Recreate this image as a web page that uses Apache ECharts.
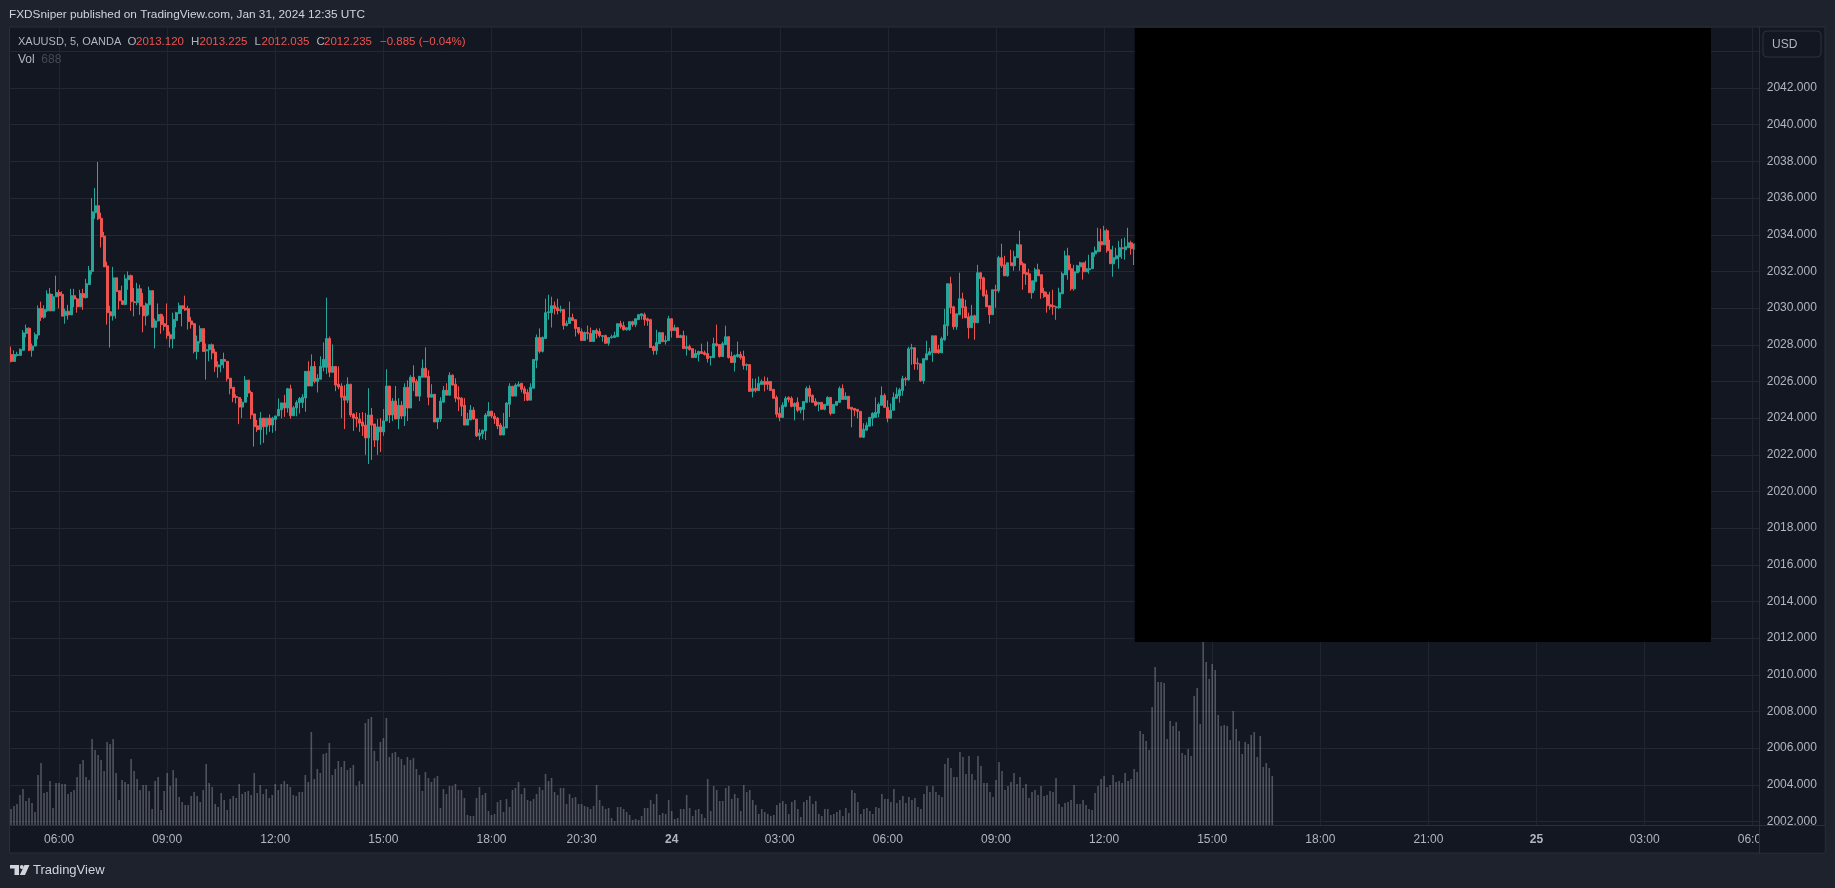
<!DOCTYPE html>
<html>
<head>
<meta charset="utf-8">
<title>XAUUSD 5m</title>
<style>
  html, body { margin: 0; padding: 0; background: #1e222d; }
  #chart { width: 1835px; height: 888px; }
</style>
<script src="https://cdn.jsdelivr.net/npm/echarts@6/dist/echarts.min.js"></script>
</head>
<body>
<div id="chart"></div>
<script>
const opens = [
  2027.47,2027.09,2027.42,2027.42,2027.7,2028.62,2028.9,2027.7,2027.93,2028.53,
  2029.98,2029.5,2029.85,2030.77,2029.85,2030.62,2030.85,2030.75,2029.6,2029.83,
  2029.63,2030.68,2030.5,2030.07,2030.79,2030.57,2031.28,2032,2035.2,2035.58,
  2034.9,2033.93,2032.3,2029.8,2029.58,2031.65,2030.95,2030.4,2030.2,2031.55,
  2031.77,2030.35,2030.3,2031.05,2030.13,2029.58,2030.18,2030.95,2028.95,2029.3,
  2029.65,2029.15,2029.05,2028.55,2028.33,2029.33,2029.7,2030.13,2030,2029.97,
  2029.3,2029.15,2027.63,2028.18,2028.88,2027.67,2027.73,2028,2027.6,2026.8,
  2026.9,2027.2,2027.1,2026.18,2025.68,2025.18,2025.13,2024.6,2024.87,2026.07,
  2025.4,2024.23,2023.58,2023.37,2024,2023.53,2024,2023.62,2023.93,2024.12,
  2024.45,2024.83,2024.55,2025.6,2024.13,2024.55,2024.85,2024.85,2025.1,2026.55,
  2025.75,2026.82,2026,2026.12,2026.77,2026.77,2028.34,2026.5,2026.82,2025.85,
  2025.74,2025.2,2024.98,2025.85,2024.22,2024.05,2023.95,2023.79,2023.62,2022.92,
  2024.17,2023.68,2022.8,2023.52,2023.25,2023.85,2025.75,2024.17,2024.93,2023.95,
  2024.7,2024.11,2025.68,2024.55,2026.23,2026.01,2025.2,2026.23,2026.72,2026.28,
  2025.14,2025.3,2023.79,2023.95,2024.87,2025.52,2025.25,2026.34,2025.85,2025.14,
  2025.09,2024.7,2023.62,2023.9,2024.44,2023.95,2023.03,2023.14,2023.3,2024.11,
  2024.38,2024.11,2024,2023.62,2023.08,2023.46,2024.76,2025.74,2025.2,2025.74,
  2025.9,2025.6,2025.4,2024.98,2025.63,2027.15,2028.4,2027.64,2028.34,2029.75,
  2029.75,2030.13,2030.02,2029.86,2029.92,2029.05,2029.16,2029.48,2029.37,2028.94,
  2028.72,2028.23,2028.67,2028.62,2028.18,2028.78,2028.72,2028.45,2028.5,2028.08,
  2028.39,2028.39,2028.44,2029.15,2029.04,2028.82,2028.82,2029.26,2029.1,2029.37,
  2029.58,2029.64,2029.42,2029.37,2027.9,2027.68,2028.06,2028.66,2028.17,2028.23,
  2029.42,2028.77,2028.93,2028.39,2028.5,2027.79,2027.9,2027.79,2027.3,2027.47,
  2027.63,2027.57,2027.52,2027.3,2027.3,2028.06,2028.01,2027.36,2028.01,2028.44,
  2027.36,2027.03,2027.36,2027.47,2027.36,2026.87,2026.92,2025.46,2025.62,2025.5,
  2025.84,2026,2026,2026,2025.57,2025.13,2024.26,2024.04,2024.64,2025.13,
  2025.08,2024.64,2024.86,2024.43,2024.48,2024.86,2025.62,2025.24,2024.91,2024.75,
  2024.86,2024.48,2024.7,2025.13,2024.26,2024.7,2024.86,2025.62,2025.02,2025.19,
  2024.59,2024.53,2024.48,2024.37,2022.96,2023.34,2023.56,2023.99,2024.04,2024.26,
  2024.7,2025.24,2024.59,2023.99,2024.43,2025.08,2025.22,2025.5,2026.15,2026.09,
  2027.78,2027.84,2027.01,2026.96,2026.04,2027.18,2027.45,2027.56,2028.49,2027.73,
  2027.56,2028.27,2029.04,2031.33,2030.07,2028.98,2029.64,2030.51,2030.07,2029.53,
  2028.93,2029.58,2029.2,2031.93,2031.65,2030.73,2030.13,2029.64,2031,2030.95,
  2032.75,2032.36,2031.76,2032.47,2032.31,2032.75,2033.45,2032.42,2031.93,2031.87,
  2030.84,2031.44,2032.09,2031.82,2030.89,2030.73,2030.18,2030.13,2030.02,2030.02,
  2030.78,2031.82,2032.85,2032.15,2031.05,2031.93,2032.25,2032.47,2031.98,2032.09,
  2032.15,2032.96,2033.07,2033.62,2033.45,2034.22,2033.18,2032.42,2032.69,2032.8,
  2033.29,2033.18,2033.29,2033.56,2033.2
];
const closes = [
  2027.09,2027.47,2027.47,2027.75,2028.65,2028.9,2027.7,2027.93,2028.55,2029.98,
  2029.5,2029.93,2030.77,2029.85,2030.62,2030.85,2030.68,2029.56,2029.83,2029.63,
  2030.68,2030.5,2030.07,2030.79,2030.57,2031.33,2032.04,2035.25,2035.58,2034.87,
  2033.88,2032.25,2029.75,2029.58,2031.65,2030.9,2030.4,2030.2,2031.6,2031.77,
  2030.35,2030.3,2031.05,2030.1,2029.58,2030.23,2030.95,2028.95,2029.3,2029.65,
  2029.1,2029,2028.5,2028.33,2029.38,2029.75,2030.13,2029.97,2029.9,2029.27,
  2029.1,2027.63,2028.18,2028.88,2027.63,2027.73,2028,2027.55,2026.8,2026.9,
  2027.2,2027.1,2026.15,2025.63,2025.13,2025.13,2024.6,2024.87,2026.07,2025.37,
  2024.18,2023.53,2023.37,2024,2023.53,2024,2023.62,2024,2024.12,2024.48,
  2024.83,2024.55,2025.6,2024.13,2024.57,2024.85,2025.07,2025.14,2026.55,2025.75,
  2026.82,2026,2026.17,2026.82,2027.2,2028.34,2026.5,2026.82,2025.8,2025.7,
  2025.14,2024.98,2025.85,2024.17,2024,2023.95,2023.73,2023.57,2022.92,2024.17,
  2023.62,2022.8,2023.52,2023.25,2023.85,2025.75,2024.17,2024.93,2023.95,2024.7,
  2024.11,2025.68,2024.55,2026.23,2025.96,2025.2,2026.28,2026.72,2026.23,2025.14,
  2025.3,2023.79,2024,2024.93,2025.52,2025.25,2026.34,2025.8,2025.09,2025.03,
  2024.65,2023.62,2023.95,2024.44,2023.95,2023.03,2023.19,2023.35,2024.17,2024.38,
  2024.11,2023.95,2023.57,2023.08,2023.52,2024.82,2025.74,2025.2,2025.8,2025.85,
  2025.57,2025.34,2024.98,2025.68,2027.2,2028.4,2027.64,2028.4,2029.75,2029.8,
  2030.13,2029.97,2029.86,2029.92,2029.05,2029.16,2029.48,2029.32,2028.89,2028.67,
  2028.23,2028.67,2028.62,2028.18,2028.78,2028.62,2028.5,2028.5,2028.08,2028.39,
  2028.44,2028.5,2029.15,2028.99,2028.82,2028.93,2029.26,2029.1,2029.42,2029.64,
  2029.69,2029.37,2029.31,2027.85,2027.68,2028.12,2028.66,2028.17,2028.23,2029.42,
  2028.77,2028.93,2028.39,2028.5,2027.79,2027.9,2027.74,2027.3,2027.52,2027.63,
  2027.52,2027.47,2027.25,2027.36,2028.06,2027.95,2027.36,2028.06,2028.44,2027.3,
  2027.03,2027.41,2027.47,2027.3,2026.87,2026.92,2025.46,2025.62,2025.5,2025.89,
  2026,2025.84,2025.84,2025.51,2025.08,2024.21,2024.04,2024.7,2025.08,2025.02,
  2024.64,2024.8,2024.43,2024.59,2024.91,2025.62,2025.19,2024.86,2024.7,2024.86,
  2024.48,2024.75,2025.13,2024.26,2024.75,2024.91,2025.62,2025.02,2025.19,2024.53,
  2024.48,2024.43,2024.37,2022.96,2023.39,2023.61,2024.04,2024.26,2024.32,2024.75,
  2025.24,2024.59,2023.99,2024.43,2025.13,2025.3,2025.55,2026.15,2026.09,2027.78,
  2027.84,2026.96,2026.96,2026.04,2027.24,2027.51,2027.62,2028.49,2027.56,2027.56,
  2028.33,2029.09,2031.33,2030.02,2028.98,2029.69,2030.51,2030.02,2029.47,2028.93,
  2029.58,2029.2,2031.93,2031.6,2030.67,2030.07,2029.64,2031,2030.95,2032.75,
  2032.31,2031.76,2032.47,2032.31,2032.8,2033.45,2032.36,2031.87,2031.82,2030.84,
  2031.49,2032.09,2031.76,2030.84,2030.62,2030.13,2030.07,2030.07,2030.07,2030.84,
  2031.87,2032.85,2032.09,2031.05,2031.98,2032.31,2032.47,2031.98,2032.15,2032.15,
  2033.02,2033.13,2033.62,2033.45,2034.22,2033.13,2032.42,2032.75,2032.85,2033.29,
  2033.24,2033.35,2033.56,2033.24,2033.5
];
const lows = [
  2027.04,2027.09,2027.35,2027.42,2027.7,2028.4,2027.65,2027.35,2027.92,2028.3,
  2029.3,2029.42,2029.78,2029.83,2029.83,2030.62,2029.98,2029.56,2029.15,2029.37,
  2029.63,2030.05,2029.75,2030.07,2029.9,2030.52,2031.28,2031.83,2034.87,2034.8,
  2033.3,2032.25,2029.1,2027.85,2029.32,2029.43,2029.93,2030.2,2030.15,2031,
  2029.85,2029.55,2030.15,2029.63,2028.68,2029.05,2029.63,2028.95,2027.8,2029.27,
  2028.6,2028.78,2028.33,2027.85,2027.8,2028.95,2029.7,2029,2029.85,2028.83,
  2028.88,2027.53,2027.2,2028.07,2027.63,2026.1,2027.1,2027.2,2026.52,2026.2,
  2026.5,2026.72,2026,2025.3,2024.87,2024.8,2023.67,2024,2024.87,2025.15,
  2023.95,2022.45,2023.25,2022.55,2022.65,2023.1,2023.25,2023.2,2023.3,2024.12,
  2023.98,2024.07,2024.3,2023.97,2024.13,2024.1,2024.25,2024.55,2024.35,2025.75,
  2025.75,2025.9,2025.4,2026.12,2026.55,2026.4,2026.23,2026.5,2025.47,2025.58,
  2024,2023.4,2024.82,2024.06,2023.3,2023.5,2023.25,2023.03,2022,2021.5,
  2021.72,2022.43,2022,2022.15,2023.03,2023.85,2023.73,2023.84,2023.95,2023.4,
  2023.95,2023.57,2023.84,2024.55,2025.47,2025.2,2024.93,2026.23,2026.23,2024.7,
  2025.14,2023.79,2023.4,2023.79,2024.87,2025.25,2025.25,2025.8,2024.87,2024.38,
  2024.11,2023.62,2023.62,2023.9,2023.9,2022.97,2022.8,2022.87,2022.8,2024.11,
  2024,2023.68,2023.4,2023.08,2023.08,2023.46,2024.06,2025.2,2025.2,2025.74,
  2025.4,2024.93,2024.93,2024.98,2025.63,2026.72,2027.53,2027.58,2028.34,2029.37,
  2028.94,2029.65,2029.65,2029.75,2028.83,2029,2029.16,2029.32,2028.45,2028.56,
  2028.23,2028.23,2028.29,2028.18,2028.18,2028.34,2028.4,2028.17,2028.08,2027.95,
  2028.33,2028.39,2028.44,2028.88,2028.77,2028.77,2028.77,2028.99,2028.96,2029.37,
  2029.37,2029.04,2029.04,2027.85,2027.46,2027.46,2028.06,2028.17,2028.01,2028.23,
  2028.39,2028.77,2028.39,2028.39,2027.79,2027.41,2027.68,2027.3,2027.3,2027.09,
  2027.52,2027.41,2027.03,2026.87,2027.3,2027.9,2027.3,2027.36,2028.01,2027.25,
  2027.03,2026.54,2027.3,2027.19,2026.65,2026.6,2025.46,2025.13,2025.4,2025.5,
  2025.84,2025.46,2025.55,2025.51,2025.08,2024.04,2023.83,2024.04,2024.59,2024.86,
  2024.59,2023.88,2024.32,2024.26,2023.88,2024.86,2024.86,2024.86,2024.64,2024.37,
  2024.48,2024.43,2024.7,2024.15,2024.26,2024.7,2024.86,2025.02,2025.02,2024.48,
  2023.5,2024.1,2023.99,2022.96,2022.91,2023.34,2023.56,2023.56,2024.04,2024.04,
  2024.7,2024.59,2023.77,2023.99,2024.43,2025.08,2024.84,2025.22,2025.76,2026.04,
  2026.91,2026.64,2026.64,2025.98,2025.87,2027.18,2027.45,2027.07,2027.56,2027.51,
  2027.56,2028.22,2028.49,2029.69,2028.82,2028.82,2029.64,2029.42,2029.47,2028.33,
  2028.93,2028.27,2029.2,2031,2030.62,2030.07,2029.15,2029.64,2030.02,2030.84,
  2032.2,2031.76,2031.71,2032.31,2032.04,2032.75,2032.04,2031,2031.27,2030.84,
  2030.51,2030.95,2031.76,2030.51,2030.56,2029.75,2029.91,2029.64,2029.36,2029.96,
  2030.78,2031.82,2031.55,2030.95,2030.95,2031.93,2031.98,2031.55,2031.98,2031.87,
  2032.15,2032.8,2033.07,2033.07,2033.45,2033.02,2032.42,2031.71,2032.64,2032.15,
  2032.69,2032.64,2033.29,2032.91,2032.35
];
const highs = [
  2027.9,2027.7,2027.62,2027.8,2028.8,2029.1,2028.95,2028.07,2028.67,2030.15,
  2030.35,2030.15,2030.97,2031.1,2030.77,2031.77,2031,2030.92,2029.97,2030.18,
  2031.05,2031.05,2030.57,2031,2031.05,2031.6,2032.3,2036,2036.55,2037.97,
  2035.2,2034.15,2032.53,2030.13,2032.25,2031.65,2030.95,2031.22,2031.83,2032,
  2031.83,2031.1,2031.38,2031.28,2030.83,2030.3,2031.17,2030.95,2029.43,2030.25,
  2029.7,2029.55,2030.25,2028.72,2029.75,2029.8,2030.3,2030.13,2030.68,2030.13,
  2029.52,2029.2,2028.5,2029.05,2028.88,2028.07,2028,2028.07,2027.78,2027.1,
  2027.2,2027.57,2027.1,2026.18,2025.68,2025.3,2025.13,2025.05,2026.3,2026.07,
  2025.5,2024.23,2023.9,2024.33,2024,2024,2024.2,2024.07,2024.12,2025.07,
  2024.83,2025.27,2025.65,2025.82,2024.67,2024.97,2025.15,2025.3,2026.55,2027.1,
  2027.48,2027.1,2026.4,2027.37,2028.13,2030.57,2028.45,2028.02,2026.82,2026.82,
  2025.9,2025.8,2026.23,2025.85,2024.28,2024.33,2024.28,2024.33,2024.28,2025.63,
  2024.55,2023.68,2023.95,2024,2024.5,2026.66,2025.75,2025.09,2025.75,2025.09,
  2024.93,2025.9,2026.06,2026.34,2026.88,2026.12,2026.28,2027.2,2027.86,2026.61,
  2025.85,2025.3,2024,2025.14,2025.75,2025.9,2026.5,2026.39,2026.17,2025.74,
  2025.14,2025.09,2024.28,2024.71,2024.6,2023.95,2023.4,2023.35,2024.28,2024.87,
  2024.38,2024.28,2024.06,2023.73,2024.28,2024.87,2025.9,2025.74,2025.9,2026,
  2025.9,2025.74,2025.57,2025.9,2027.2,2028.56,2028.89,2028.45,2030.51,2030.73,
  2030.62,2030.35,2030.51,2030.13,2029.92,2029.32,2030.35,2029.7,2029.37,2028.94,
  2028.89,2028.72,2029.05,2028.94,2028.78,2028.89,2028.89,2028.5,2028.55,2028.39,
  2028.55,2028.71,2029.15,2029.31,2029.26,2028.93,2029.26,2029.31,2029.42,2029.69,
  2029.69,2029.75,2029.48,2029.42,2027.95,2028.82,2028.71,2028.66,2028.5,2029.58,
  2029.42,2029.1,2028.93,2028.55,2028.77,2028.5,2028.01,2027.79,2027.74,2027.68,
  2028.06,2027.68,2028.17,2027.36,2028.39,2029.1,2028.01,2028.17,2029.04,2028.44,
  2027.63,2027.47,2028.17,2027.63,2027.68,2026.98,2026.92,2026.16,2026.16,2026.27,
  2026.11,2026.27,2026.22,2026,2025.57,2025.24,2024.59,2024.86,2025.19,2025.19,
  2025.19,2024.86,2025.13,2024.59,2024.91,2025.73,2025.78,2025.3,2025.08,2024.86,
  2024.86,2024.75,2025.19,2025.13,2024.75,2024.91,2025.73,2025.84,2025.41,2025.19,
  2024.59,2024.53,2024.48,2024.37,2023.72,2023.77,2024.04,2024.32,2025.13,2024.86,
  2025.73,2025.35,2024.97,2024.8,2025.4,2025.67,2025.65,2026.31,2026.25,2027.89,
  2028.05,2027.84,2027.29,2026.96,2027.24,2028.22,2027.84,2028.49,2028.49,2028,
  2028.44,2029.96,2031.33,2031.71,2030.13,2029.69,2031.93,2030.84,2030.45,2029.75,
  2030.18,2029.64,2032.36,2031.93,2031.71,2031,2030.13,2031,2031.27,2032.85,
  2033.51,2032.85,2032.47,2033.18,2033.13,2033.51,2034.22,2032.53,2032.42,2032.15,
  2031.49,2032.2,2032.42,2031.82,2031.11,2030.89,2030.89,2031,2030.13,2031.11,
  2031.98,2033.13,2033.29,2032.42,2032.36,2032.36,2032.53,2032.47,2032.58,2032.91,
  2033.02,2033.35,2034.38,2034.33,2034.49,2034.33,2033.73,2033.4,2033.29,2033.67,
  2033.78,2033.84,2034.38,2033.67,2033.5
];
// volume bars, one unit = one pixel of bar height
const volumes = [
  16,19,21,30,36,24,27,22,13,50,62,32,33,44,17,42,42,41,41,31,
  33,35,48,61,65,48,45,86,75,70,65,54,83,81,86,52,25,45,43,41,
  66,54,46,35,40,40,34,16,44,48,15,34,52,39,55,47,28,23,20,20,
  29,33,29,23,35,61,42,38,21,18,32,25,15,26,29,27,41,31,33,34,
  30,52,32,40,31,36,27,30,41,35,41,44,41,38,30,29,33,33,50,43,
  93,46,56,52,71,72,82,50,56,64,58,64,55,57,60,39,44,41,102,106,
  108,74,64,83,87,107,68,72,73,68,66,60,68,65,67,56,50,34,53,47,
  43,47,49,17,36,31,39,39,41,35,35,27,10,9,9,27,38,30,32,14,
  10,11,23,25,13,26,18,35,37,43,31,37,25,24,26,31,38,35,51,44,
  47,33,30,37,37,21,31,27,28,21,21,19,18,16,19,40,25,19,16,17,
  7,4,18,18,16,13,10,5,6,5,9,17,17,25,21,31,10,12,11,25,
  14,6,7,16,16,30,17,9,15,16,11,7,46,14,39,35,24,24,37,39,
  26,31,27,14,40,33,35,25,20,11,16,13,11,9,10,20,22,24,21,11,
  23,25,16,8,23,25,29,21,24,11,9,16,16,10,11,13,15,9,17,
  12,35,32,23,11,16,17,14,11,18,17,31,26,26,23,36,22,25,29,22,
  28,25,27,18,16,31,39,33,39,33,30,28,61,67,57,48,48,73,68,51,
  69,51,45,69,59,42,42,33,28,45,63,54,35,39,43,52,41,48,37,41,
  27,33,35,30,39,29,30,34,33,47,21,18,22,23,25,40,21,21,25,20,
  16,15,32,39,46,49,38,40,50,43,44,42,52,44,46,56,53,94,91,84,
  75,118,158,143,143,142,86,104,99,103,94,72,70,76,69,129,137,101,190,163,
  146,161,155,110,99,100,99,85,114,96,84,71,83,81,90,93,68,89,58,62,
  57,49
];
const barCount = 583;
const tickIndexes = [16,52,88,124,160,190,220,256,292,328,364,400,436,472,508,544,580];
const tickLabels = ['06:00','09:00','12:00','15:00','18:00','20:30','24','03:00','06:00','09:00','12:00','15:00','18:00','21:00','25','03:00','06:00'];
const dayLabels = ['24','25'];
const priceTicks = [2002,2004,2006,2008,2010,2012,2014,2016,2018,2020,2022,2024,2026,2028,2030,2032,2034,2036,2038,2040,2042,2044];
const priceLabels = [2002,2004,2006,2008,2010,2012,2014,2016,2018,2020,2022,2024,2026,2028,2030,2032,2034,2036,2038,2040,2042];

const FONT = '"Liberation Sans", sans-serif';
const UP = '#26a69a';
const DOWN = '#ef5350';
const PANEL = '#131722';
const FRAME = '#2a2e39';
const TEXT = '#b2b5be';

const categories = Array.from({ length: barCount }, (_, i) => {
  const k = tickIndexes.indexOf(i);
  return k >= 0 ? tickLabels[k] : '';
});
const showTick = (i) => tickIndexes.includes(i);
const candles = opens.map((o, i) => [o, closes[i], lows[i], highs[i]]);

// legend pieces: [text, x, colour, size]
const legendRow = [
  ['XAUUSD, 5, OANDA', 18, TEXT, 11],
  ['O', 127.5, TEXT, 11.5], ['2013.120', 136, DOWN, 11.5],
  ['H', 191, TEXT, 11.5], ['2013.225', 199.5, DOWN, 11.5],
  ['L', 254.5, TEXT, 11.5], ['2012.035', 261.5, DOWN, 11.5],
  ['C', 316.5, TEXT, 11.5], ['2012.235', 324, DOWN, 11.5],
  ['\u22120.885 (\u22120.04%)', 380, DOWN, 11.5]
];

function label(text, x, y, fill, size) {
  return {
    type: 'text', x, y, z: 110, silent: true,
    style: { text, fill, font: (size || 12) + 'px ' + FONT, textVerticalAlign: 'middle' }
  };
}

const graphics = [
  { type: 'rect', z: -1, silent: true, shape: { x: 9.5, y: 27, width: 1815.5, height: 826 }, style: { fill: PANEL, stroke: FRAME, lineWidth: 1 } },
  // redacted block in the reference
  { type: 'rect', z: 100, silent: true, shape: { x: 1134.7, y: 28, width: 576.3, height: 614 }, style: { fill: '#000' } },
  // price scale corner hides the clipped tick labels
  { type: 'rect', z: 100, silent: true, shape: { x: 1760, y: 826, width: 64.5, height: 26.5 }, style: { fill: PANEL } },
  { type: 'line', z: 101, silent: true, shape: { x1: 1759.5, y1: 27, x2: 1759.5, y2: 853 }, style: { stroke: FRAME, lineWidth: 1 } },
  { type: 'line', z: 101, silent: true, shape: { x1: 1760, y1: 825.5, x2: 1825, y2: 825.5 }, style: { stroke: FRAME, lineWidth: 1 } },
  { type: 'rect', z: 101, silent: true, shape: { x: 1763, y: 31, width: 58, height: 26, r: 4 }, style: { fill: PANEL, stroke: '#2f333e', lineWidth: 1 } },
  label('USD', 1772, 45, TEXT, 12),
  label('FXDSniper published on TradingView.com, Jan 31, 2024 12:35 UTC', 9, 15, '#d1d4dc', 11.8),
  label('Vol', 18, 59.5, TEXT, 12),
  label('688', 41.3, 59.5, '#454953', 12),
  label('TradingView', 33, 870.5, '#d1d4dc', 13),
  // logo
  { type: 'polygon', z: 110, silent: true, shape: { points: [[10, 865], [19, 865], [19, 875], [14.5, 875], [14.5, 868.6], [10, 868.6]] }, style: { fill: '#d1d4dc' } },
  { type: 'circle', z: 110, silent: true, shape: { cx: 21.8, cy: 867, r: 1.9 }, style: { fill: '#d1d4dc' } },
  { type: 'polygon', z: 110, silent: true, shape: { points: [[24.5, 865], [29.5, 865], [25, 875], [19.8, 875]] }, style: { fill: '#d1d4dc' } }
].concat(legendRow.map((p) => label(p[0], p[1], 42, p[2], p[3])));

const chart = echarts.init(document.getElementById('chart'));
chart.setOption({
  animation: false,
  backgroundColor: '#1e222d',
  textStyle: { fontFamily: FONT },
  graphic: graphics,
  grid: { left: 9.5, top: 27, width: 1750.75, height: 798, containLabel: false },
  xAxis: {
    type: 'category',
    data: categories,
    axisLine: { show: true, lineStyle: { color: FRAME } },
    axisTick: { show: false },
    splitLine: { show: true, interval: showTick, alignWithLabel: true, lineStyle: { color: '#20242e' } },
    axisLabel: {
      interval: showTick,
      color: TEXT,
      fontSize: 12,
      margin: 8.5,
      fontFamily: FONT,
      formatter: (v) => (dayLabels.includes(v) ? '{day|' + v + '}' : v),
      rich: { day: { fontWeight: 'bold', color: TEXT, fontSize: 12, fontFamily: FONT } }
    }
  },
  yAxis: [
    {
      type: 'value',
      position: 'right',
      min: 2001.81,
      max: 2045.33,
      axisLine: { show: false },
      axisTick: { show: false, customValues: priceTicks },
      splitLine: { show: true, lineStyle: { color: '#242832' } },
      axisLabel: {
        customValues: priceLabels,
        color: TEXT,
        fontSize: 12,
        margin: 6.5,
        padding: [2, 0, 0, 0],
        fontFamily: FONT,
        formatter: (v) => v.toFixed(3)
      }
    },
    { type: 'value', min: 0, max: 798, show: false, splitLine: { show: false } }
  ],
  series: [
    {
      type: 'bar',
      yAxisIndex: 1,
      data: volumes,
      barWidth: 1.6,
      itemStyle: { color: 'rgba(178,181,190,0.38)' },
      silent: true,
      z: 1
    },
    {
      type: 'candlestick',
      yAxisIndex: 0,
      data: candles,
      barWidth: 2.5,
      silent: true,
      z: 2,
      itemStyle: { color: UP, color0: DOWN, borderColor: UP, borderColor0: DOWN, borderWidth: 1 }
    }
  ]
});
window.addEventListener('resize', () => chart.resize());
</script>
</body>
</html>
